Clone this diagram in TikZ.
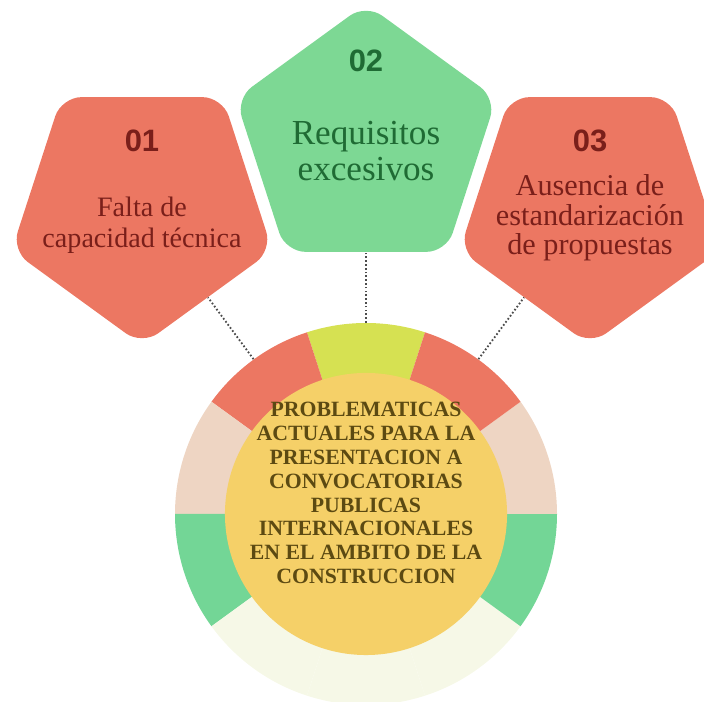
\documentclass[tikz,border=0pt]{standalone}
\usepackage{fontspec}
\setmainfont{Liberation Serif}
\setsansfont{Liberation Sans}
\usepackage{xcolor}
\usepackage{tikz}
\usetikzlibrary{shapes.geometric, positioning}

\definecolor{pentred}{HTML}{EC7762}
\definecolor{pentgreen}{HTML}{7DD894}
\definecolor{ringyellow}{HTML}{D6E152}
\definecolor{ringbeige}{HTML}{EED5C3}
\definecolor{ringgreen}{HTML}{73D696}
\definecolor{ringcream}{HTML}{F6F8E7}
\definecolor{coreyellow}{HTML}{F5D068}
\definecolor{redtext}{HTML}{7A1F1A}
\definecolor{greentext}{HTML}{1F6B34}
\definecolor{titletext}{HTML}{5C4A12}

\tikzset{
    pent/.style={regular polygon, regular polygon sides=5, minimum size=6.85cm, inner sep=0pt, rounded corners=0.5cm},
    num/.style={font=\sffamily\bfseries\fontsize{22}{24}\selectfont},
    desc/.style={align=center, font=\fontsize{20}{22}\selectfont},
    link/.style={line width=1.3pt, dash pattern=on 1.2pt off 1.5pt, black!70},
}

\begin{document}
\begin{tikzpicture}[x=0.025cm, y=0.025cm]
    \useasboundingbox (0,0) rectangle (704,702);

    % Ring of ten slices round the title
    \coordinate (ctr) at (366,188);
    \foreach \a/\c in {72/ringyellow, 108/pentred, 144/ringbeige, 180/ringgreen, 216/ringcream,
                       252/ringcream, 288/ringcream, 324/ringgreen, 0/ringbeige, 36/pentred} {
        \fill[\c] (ctr) -- ++(\a:191) arc[start angle=\a, delta angle=36, radius=191] -- cycle;
    }
    \node[circle, minimum size=9.55cm, inner sep=0pt] (ring) at (ctr) {};
    \node[circle, fill=coreyellow, minimum size=7.05cm, inner sep=0pt] (core) at (ctr) {};
    \node[align=center, text=titletext, font=\bfseries\fontsize{15.5}{17}\selectfont] (title) at (366,209)
        {PROBLEMATICAS\\ACTUALES PARA LA\\PRESENTACION A\\CONVOCATORIAS\\PUBLICAS\\INTERNACIONALES\\EN EL AMBITO DE LA\\CONSTRUCCION};

    % Pentagons
    \node[pent, shape border rotate=180, fill=pentred] (p1) at (142,494) {};
    \node[pent, fill=pentgreen] (p2) at (366,561) {};
    \node[pent, shape border rotate=180, fill=pentred] (p3) at (590,494) {};

    % Numbers and texts
    \node[num, text=redtext] (n1) at (142,561) {01};
    \node[desc, text=redtext] (d1) at (142,477) {Falta de\\capacidad técnica};
    \node[num, text=greentext] (n2) at (366,641) {02};
    \node[desc, text=greentext, font=\fontsize{25}{25}\selectfont] (d2) at (366,551) {Requisitos\\excesivos};
    \node[num, text=redtext] (n3) at (590,561) {03};
    \node[desc, text=redtext, font=\fontsize{21.5}{21}\selectfont] (d3) at (590,484) {Ausencia de\\estandarización\\de propuestas};

    % Dotted links to the ring
    \draw[link] (ring.126) -- (p1);
    \draw[link] (ring.90) -- (p2);
    \draw[link] (ring.54) -- (p3);
\end{tikzpicture}
\end{document}
